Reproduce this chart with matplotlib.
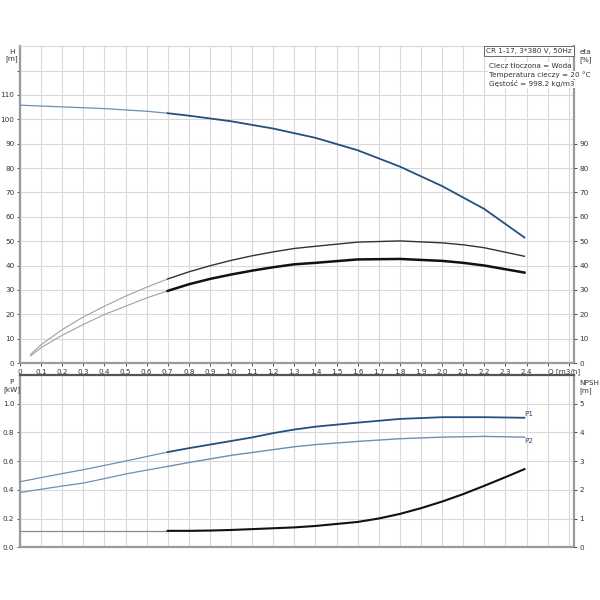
import numpy as np
import matplotlib
matplotlib.use("Agg")
import matplotlib.pyplot as plt

# ----------------------------
# Data
# ----------------------------
Q_H = [0.0, 0.2, 0.4, 0.6, 0.7, 0.8, 1.0, 1.2, 1.4, 1.6, 1.8, 2.0, 2.2, 2.39]
H = [105.8, 105.1, 104.4, 103.3, 102.5, 101.5, 99.2, 96.2, 92.4, 87.3, 80.6, 72.6, 63.2, 51.5]

Q_ETA = [0.05, 0.1, 0.2, 0.3, 0.4, 0.5, 0.6, 0.7, 0.8, 0.9, 1.0, 1.1, 1.2, 1.3,
         1.4, 1.6, 1.8, 2.0, 2.1, 2.2, 2.39]
ETA_TOTAL = [3.5, 7.5, 13.7, 18.9, 23.3, 27.4, 31.1, 34.5, 37.4, 39.9, 42.1, 44.0,
             45.6, 47.0, 47.9, 49.6, 50.1, 49.3, 48.5, 47.3, 43.8]
ETA_PUMP = [2.9, 6.3, 11.4, 15.8, 19.9, 23.3, 26.7, 29.6, 32.3, 34.5, 36.3, 37.9,
            39.3, 40.5, 41.1, 42.5, 42.7, 41.9, 41.1, 40.0, 37.1]

Q_P = [0.0, 0.1, 0.2, 0.3, 0.4, 0.5, 0.6, 0.7, 0.8, 0.9, 1.0, 1.1, 1.2, 1.3,
       1.4, 1.6, 1.8, 2.0, 2.2, 2.39]
P1 = [0.456, 0.485, 0.513, 0.54, 0.57, 0.60, 0.632, 0.663, 0.69, 0.715, 0.74,
      0.765, 0.795, 0.82, 0.84, 0.868, 0.894, 0.906, 0.906, 0.902]
P2 = [0.381, 0.404, 0.426, 0.447, 0.478, 0.51, 0.537, 0.563, 0.59, 0.615, 0.64,
      0.66, 0.68, 0.70, 0.715, 0.737, 0.756, 0.767, 0.772, 0.767]

Q_NPSH = [0.0, 0.7, 0.8, 0.9, 1.0, 1.1, 1.2, 1.3, 1.4, 1.5, 1.6, 1.7, 1.8, 1.9,
          2.0, 2.1, 2.2, 2.3, 2.39]
NPSH = [0.57, 0.57, 0.57, 0.58, 0.6, 0.63, 0.66, 0.69, 0.74, 0.81, 0.88, 1.0,
        1.16, 1.36, 1.59, 1.85, 2.14, 2.44, 2.72]

INFO_LINES = ["Ciecz tłoczona = Woda", "Temperatura cieczy = 20 °C", "Gęstość = 998.2 kg/m3"]

Q_SPLIT = 0.7  # thin line below, thick line above
BLUE = "#22507f"
BLUE_LIGHT = "#6c8fb3"
GRID = "#d9d9d9"
SPINE = "#9a9a9a"
TXT = "#333333"
FS = 5.2


def split_plot(ax, q, y, thin_color, thick_color, lw_thin, lw_thick):
    q = np.asarray(q)
    y = np.asarray(y)
    lo = q <= Q_SPLIT
    hi = q >= Q_SPLIT
    ax.plot(q[lo], y[lo], color=thin_color, linewidth=lw_thin, zorder=3)
    ax.plot(q[hi], y[hi], color=thick_color, linewidth=lw_thick, zorder=3)


def style_axes(ax):
    ax.set_xlim(0, 2.625)
    ax.set_xticks(np.arange(0, 2.61, 0.1))
    ax.grid(True, color=GRID, linewidth=0.8)
    ax.set_axisbelow(True)
    for side in ("left", "right", "bottom"):
        ax.spines[side].set_color(SPINE)
        ax.spines[side].set_linewidth(1.6)
    ax.spines["top"].set_color(GRID)
    ax.spines["top"].set_linewidth(0.8)
    ax.tick_params(labelsize=FS, colors=TXT, length=2.5, width=0.6, pad=1.5)


def fmt_q(v):
    return "0" if v == 0 else "%.1f" % v


fig = plt.figure(figsize=(6, 6), dpi=100)
ax_top = fig.add_axes([0.0333, 0.395, 0.9234, 0.528])
ax_bot = fig.add_axes([0.0333, 0.088, 0.9234, 0.287])

# ----------------------------
# Top panel: H and eta
# ----------------------------
style_axes(ax_top)
ax_top.set_ylim(0, 130)
ax_top.set_yticks(np.arange(0, 121, 10))
ax_top.set_yticklabels([str(v) if v <= 110 else "" for v in range(0, 121, 10)])

q_ticks = np.round(np.arange(0, 2.61, 0.1), 1)
xt_labels = [fmt_q(v) if v <= 2.4 else "" for v in q_ticks]
xt_labels[25] = "Q [m3/h]"
ax_top.set_xticklabels(xt_labels)
ax_top.get_xticklabels()[25].set_horizontalalignment("left")
ax_top.get_xticklabels()[25].set_x(2.49)

split_plot(ax_top, Q_H, H, BLUE_LIGHT, BLUE, 0.9, 1.3)
split_plot(ax_top, Q_ETA, ETA_TOTAL, "#a0a0a0", "#333333", 0.8, 1.0)
split_plot(ax_top, Q_ETA, ETA_PUMP, "#a0a0a0", "#111111", 0.8, 1.8)

ax_top.text(-0.04, 129, "H\n[m]", fontsize=FS, ha="center", va="top", color=TXT,
            linespacing=1.2, clip_on=False)

ax_eta = ax_top.twinx()
ax_eta.set_ylim(0, 130)
ax_eta.set_yticks(np.arange(0, 91, 10))
ax_eta.tick_params(labelsize=FS, colors=TXT, length=2.5, width=0.6, pad=1.5)
for side in ("left", "right", "bottom", "top"):
    ax_eta.spines[side].set_visible(False)
ax_eta.text(1.01, 0.99, "eta\n[%]", fontsize=FS, ha="left", va="top", color=TXT,
            linespacing=1.2, transform=ax_top.transAxes)

ax_top.text(0.996, 0.995, "CR 1-17, 3*380 V, 50Hz", fontsize=FS, ha="right", va="top",
            color=TXT, transform=ax_top.transAxes, zorder=5,
            bbox=dict(boxstyle="square,pad=0.25", facecolor="white", edgecolor="#555555",
                      linewidth=0.6))
for i, line in enumerate(INFO_LINES):
    ax_top.text(0.846, 0.948 - i * 0.028, line, fontsize=FS, ha="left", va="top",
                color=TXT, transform=ax_top.transAxes,
                bbox=dict(boxstyle="square,pad=0.05", facecolor="white", edgecolor="none"))

# ----------------------------
# Bottom panel: P1, P2 and NPSH
# ----------------------------
style_axes(ax_bot)
ax_bot.spines["top"].set_color("#555555")
ax_bot.spines["top"].set_linewidth(1.6)
ax_bot.set_ylim(0, 1.2)
ax_bot.set_yticks(np.arange(0, 1.01, 0.2))
ax_bot.set_yticklabels(["%.1f" % v for v in np.arange(0, 1.01, 0.2)])
ax_bot.tick_params(axis="x", labelbottom=False, length=0)

split_plot(ax_bot, Q_P, P1, BLUE_LIGHT, BLUE, 0.9, 1.3)
split_plot(ax_bot, Q_P, P2, BLUE_LIGHT, BLUE_LIGHT, 0.9, 1.0)
ax_bot.text(Q_P[-1], P1[-1] + 0.005, "P1", fontsize=FS, color=BLUE, ha="left", va="bottom")
ax_bot.text(Q_P[-1], P2[-1] - 0.005, "P2", fontsize=FS, color=BLUE, ha="left", va="top")

ax_bot.text(-0.04, 1.17, "P\n[kW]", fontsize=FS, ha="center", va="top", color=TXT,
            linespacing=1.2, clip_on=False)

ax_npsh = ax_bot.twinx()
ax_npsh.set_ylim(0, 6)
ax_npsh.set_yticks(range(0, 6))
ax_npsh.tick_params(labelsize=FS, colors=TXT, length=2.5, width=0.6, pad=1.5)
for side in ("left", "right", "bottom", "top"):
    ax_npsh.spines[side].set_visible(False)
split_plot(ax_npsh, Q_NPSH, NPSH, "#8a8a8a", "#111111", 0.9, 1.5)
ax_npsh.text(1.01, 0.97, "NPSH\n[m]", fontsize=FS, ha="left", va="top", color=TXT,
             linespacing=1.2, transform=ax_bot.transAxes)

fig.savefig("out.png", dpi=100, facecolor="white")
